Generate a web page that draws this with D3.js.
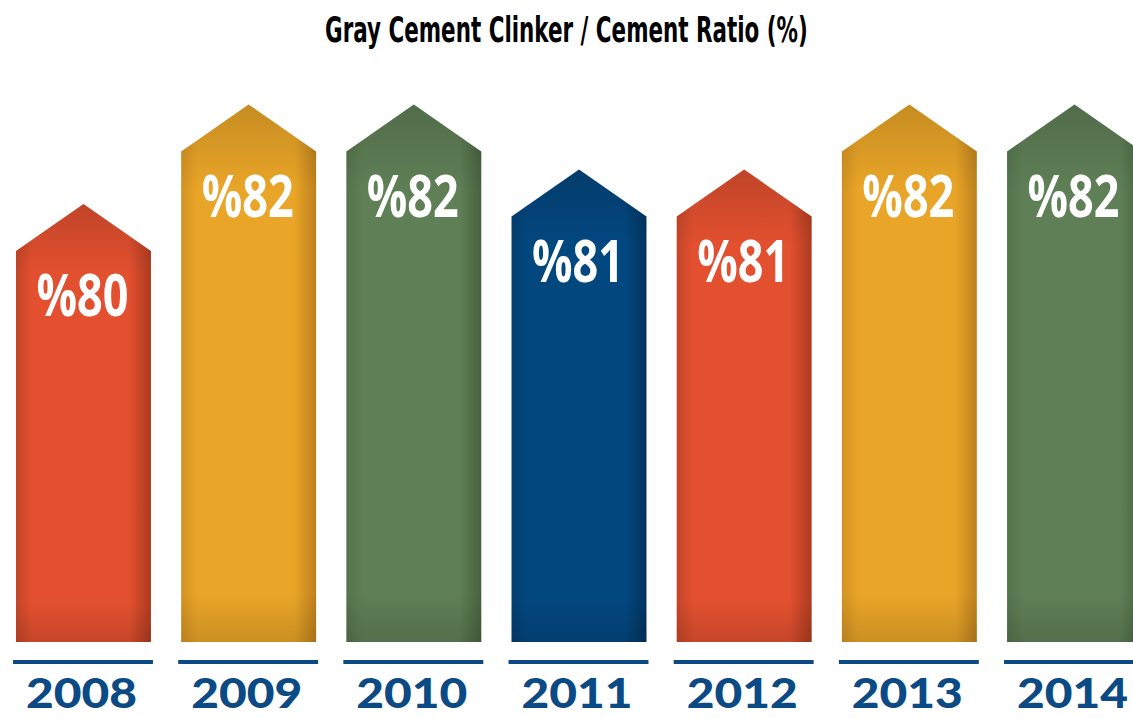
<!DOCTYPE html>
<html>
<head>
<meta charset="utf-8">
<script src="https://cdn.jsdelivr.net/npm/d3@7"></script>
<style>
  html, body { margin: 0; padding: 0; background: #ffffff; }
  svg { display: block; }
</style>
</head>
<body>
<svg id="chart" width="1133" height="719"></svg>
<script>
// ---- data ----
const years = ["2008", "2009", "2010", "2011", "2012", "2013", "2014"];
const ratios = [80, 82, 82, 81, 81, 82, 82];
const valueLabels = ["%80", "%82", "%82", "%81", "%81", "%82", "%82"];
const title = "Gray Cement Clinker / Cement Ratio (%)";

// ---- styles ----
const palette = {
  red:    { mid: "#e2502f", edge: "#c44528", dark: "#ad3b20" },
  orange: { mid: "#e9a527", edge: "#d39223", dark: "#bd801d" },
  green:  { mid: "#5f7f56", edge: "#55734c", dark: "#48623f" },
  blue:   { mid: "#03477f", edge: "#033e70", dark: "#02345e" }
};
const barColors = ["red", "orange", "green", "blue", "red", "orange", "green"];
const axisBlue = "#0b4a84";

const svg = d3.select("#chart");

// scales
const x = d3.scaleBand()
  .domain(years)
  .range([16, 1142])
  .paddingInner(0.183)
  .paddingOuter(0);

// shoulder height of each arrow bar (piecewise linear scale)
const y = d3.scaleLinear()
  .domain([80, 81, 82])
  .range([251, 216.5, 151.5]);

const baseY = 642;
const roofH = 47;

// gradients
const defs = svg.append("defs");
Object.entries(palette).forEach(([k, c]) => {
  const g = defs.append("linearGradient").attr("id", "h-" + k)
    .attr("x1", "0%").attr("x2", "100%").attr("y1", "0%").attr("y2", "0%");
  g.append("stop").attr("offset", "0%").attr("stop-color", c.edge);
  g.append("stop").attr("offset", "12%").attr("stop-color", c.mid);
  g.append("stop").attr("offset", "84%").attr("stop-color", c.mid);
  g.append("stop").attr("offset", "100%").attr("stop-color", c.dark);
});
const vg = defs.append("linearGradient").attr("id", "vshade")
  .attr("x1", "0%").attr("x2", "0%").attr("y1", "0%").attr("y2", "100%");
vg.append("stop").attr("offset", "0%").attr("stop-color", "#000").attr("stop-opacity", 0.15);
vg.append("stop").attr("offset", "16%").attr("stop-color", "#000").attr("stop-opacity", 0.0);
vg.append("stop").attr("offset", "91%").attr("stop-color", "#000").attr("stop-opacity", 0.0);
vg.append("stop").attr("offset", "100%").attr("stop-color", "#000").attr("stop-opacity", 0.13);

const arrowPath = (d, i) => {
  const x0 = x(years[i]), bw = x.bandwidth();
  const sy = y(d);
  const p = d3.path();
  p.moveTo(x0, baseY);
  p.lineTo(x0, sy);
  p.lineTo(x0 + bw / 2, sy - roofH);
  p.lineTo(x0 + bw, sy);
  p.lineTo(x0 + bw, baseY);
  p.closePath();
  return p.toString();
};

const bars = svg.append("g").attr("class", "bars");
bars.selectAll("path.bar").data(ratios).join("path")
  .attr("class", "bar")
  .attr("d", arrowPath)
  .attr("fill", (d, i) => "url(#h-" + barColors[i] + ")");
bars.selectAll("path.shade").data(ratios).join("path")
  .attr("class", "shade")
  .attr("d", arrowPath)
  .attr("fill", "url(#vshade)");

// helper: fit a text horizontally to a target width by scaling about its centre
function fitX(sel, cx, cy, target) {
  sel.each(function (d, i) {
    const t = d3.select(this);
    const w = this.getComputedTextLength();
    const s = target / w;
    t.attr("x", 0).attr("y", 0)
      .attr("transform", `translate(${cx(d, i)},${cy(d, i)}) scale(${s},1)`);
  });
}

// value labels
const vl = svg.append("g").selectAll("text").data(ratios).join("text")
  .attr("text-anchor", "middle")
  .attr("font-family", "'Open Sans', 'Noto Sans', sans-serif")
  .attr("font-weight", 700)
  .attr("font-size", 59)
  .attr("fill", "#ffffff")
  .text((d, i) => valueLabels[i]);
fitX(vl, (d, i) => x(years[i]) + x.bandwidth() / 2 - 1, d => y(d) + 65, 92);

// baseline rules under each bar
svg.append("g").selectAll("rect").data(years).join("rect")
  .attr("x", d => x(d) - 3)
  .attr("y", 660)
  .attr("width", x.bandwidth() + 5)
  .attr("height", 4)
  .attr("fill", axisBlue);

// year labels
const yl = svg.append("g").selectAll("text").data(years).join("text")
  .attr("text-anchor", "middle")
  .attr("font-family", "Lato, 'Noto Sans', sans-serif")
  .attr("font-weight", 900)
  .attr("font-size", 41)
  .attr("fill", axisBlue)
  .text(d => d);
fitX(yl, d => x(d) + x.bandwidth() / 2 - 2, () => 708, 111);

// title
const tt = svg.append("text")
  .attr("text-anchor", "middle")
  .attr("font-family", "'DejaVu Sans Condensed', 'DejaVu Sans', sans-serif")
  .attr("font-weight", 700)
  .attr("font-size", 35)
  .attr("fill", "#000000")
  .text(title);
fitX(tt, () => 566.5, () => 42, 483);
</script>
</body>
</html>
